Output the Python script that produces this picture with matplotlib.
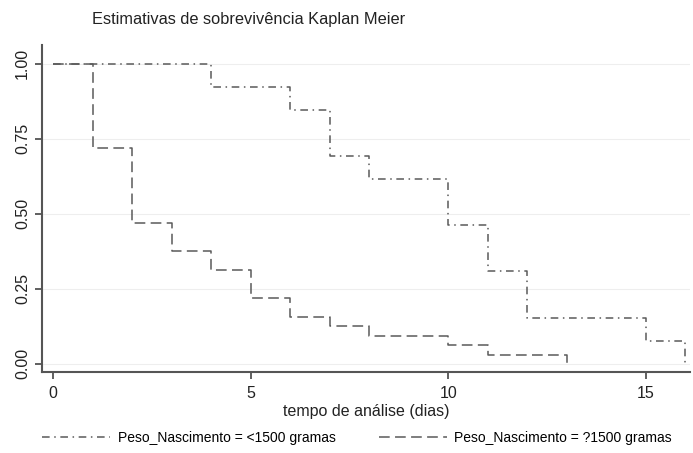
import numpy as np
import matplotlib.pyplot as plt

plt.rcParams['font.family'] = ['Liberation Sans', 'DejaVu Sans']

# Curva Kaplan-Meier: peso < 1500 g
tempo_baixo = [0, 4, 6, 7, 8, 10, 11, 12, 15, 16]
surv_baixo = [1.0, 0.923, 0.846, 0.692, 0.615, 0.462, 0.308, 0.154, 0.077, 0.0]

# Curva Kaplan-Meier: peso >= 1500 g
tempo_alto = [0, 1, 2, 3, 4, 5, 6, 7, 8, 10, 11, 13]
surv_alto = [1.0, 0.719, 0.469, 0.375, 0.3125, 0.219, 0.156, 0.125, 0.094, 0.0625, 0.031, 0.0]

x_ticks = [0, 5, 10, 15]
y_ticks = [0.0, 0.25, 0.5, 0.75, 1.0]
y_labels = ['0.00', '0.25', '0.50', '0.75', '1.00']

titulo = 'Estimativas de sobrevivência Kaplan Meier'
label_x = 'tempo de análise (dias)'
leg_baixo = 'Peso_Nascimento = <1500 gramas'
leg_alto = 'Peso_Nascimento = ?1500 gramas'

cor = '#5a5a5a'

fig = plt.figure(figsize=(6.93, 4.53), dpi=100, facecolor='white')
ax = fig.add_axes([0.0606, 0.179, 0.935, 0.722])

l1, = ax.step(tempo_baixo, surv_baixo, where='post', color=cor, lw=1.1,
              dashes=(5, 3, 1, 3))
l2, = ax.step(tempo_alto, surv_alto, where='post', color=cor, lw=1.1,
              dashes=(7, 3.5))

ax.set_xlim(-0.28, 16.12)
ax.set_ylim(-0.027, 1.063)
ax.set_xticks(x_ticks)
ax.set_yticks(y_ticks)
ax.set_yticklabels(y_labels, rotation=90, va='center')
ax.tick_params(labelsize=11.5, length=5, width=1.2, colors='#444444',
               labelcolor='#222222')
ax.tick_params(axis='x', pad=5)

for s in ['top', 'right']:
    ax.spines[s].set_visible(False)
for s in ['left', 'bottom']:
    ax.spines[s].set_color('#555555')
    ax.spines[s].set_linewidth(1.5)

ax.yaxis.grid(True, color='#eeeeee', lw=0.8)
ax.set_axisbelow(True)

ax.set_xlabel(label_x, fontsize=11.5, color='#222222', labelpad=2)
fig.text(0.133, 0.958, titulo, fontsize=11.8, color='#222222', va='center')

fig.legend([l1, l2], [leg_baixo, leg_alto], loc='center', ncol=2,
           bbox_to_anchor=(0.515, 0.033), frameon=False, fontsize=10,
           handlelength=4.9, columnspacing=3.1, handletextpad=0.55)

fig.savefig('out.png', dpi=100, facecolor='white')
